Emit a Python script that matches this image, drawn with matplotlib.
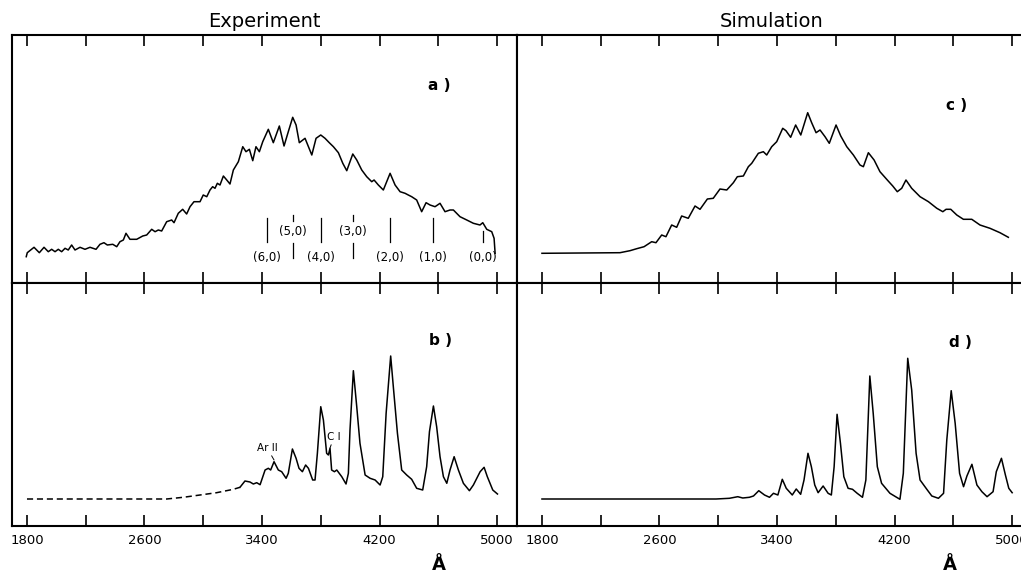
import matplotlib
matplotlib.use("Agg")
import matplotlib.pyplot as plt

plt.rcParams["font.family"] = ["DejaVu Sans"]

# wavelengths in Angstrom, intensities in arbitrary units
a_wl = [1795, 1802, 1848, 1884, 1916, 1945, 1968, 1991, 2013, 2036, 2059, 2081,
        2104, 2127, 2161, 2195, 2229, 2270, 2297, 2324, 2347, 2384, 2411, 2433,
        2456, 2474, 2501, 2547, 2588, 2615, 2649, 2672, 2694, 2717, 2751, 2785,
        2801, 2830, 2860, 2887, 2910, 2937, 2978, 3000, 3024, 3046, 3064, 3080,
        3096, 3114, 3137, 3160, 3182, 3205, 3239, 3269, 3291, 3314, 3337, 3359,
        3382, 3405, 3443, 3477, 3518, 3550, 3579, 3609, 3632, 3654, 3693, 3739,
        3768, 3800, 3829, 3858, 3886, 3920, 3950, 3977, 4018, 4045, 4079, 4113,
        4147, 4163, 4192, 4226, 4272, 4306, 4340, 4374, 4396, 4419, 4453, 4487,
        4517, 4544, 4578, 4612, 4646, 4680, 4703, 4748, 4794, 4839, 4884, 4903,
        4930, 4964, 4980, 4987]
a_int = [26.3, 30.3, 35.7, 30.3, 35.7, 31.3, 33.7, 31.3, 33.7, 31.3, 34.7, 33,
         38, 33, 35.7, 33.7, 35.7, 33.7, 38.7, 40.3, 38, 38.7, 36.3, 41.3, 43,
         49.7, 43.7, 43.7, 47, 48, 53.7, 51.3, 53, 52, 61.3, 63, 60.3, 69.7, 73.7,
         69, 76.3, 81.3, 81.3, 88, 86.3, 93, 96.3, 94.7, 99.7, 98, 107, 103, 99,
         113, 121.3, 136.3, 131.3, 133.7, 122.3, 136.3, 131.3, 141.3, 153.7,
         140.3, 157, 137, 151.3, 165.7, 158, 140.3, 144.7, 128, 144.7, 148,
         144.7, 140.3, 136.3, 130.3, 119.7, 112.3, 129, 123, 113, 106.3, 101.3,
         103, 98, 93, 109.7, 98, 91.3, 89.7, 88, 86.3, 83, 71.3, 80.3, 78, 76.3,
         79.7, 71.3, 73, 73, 66.3, 63, 59.7, 58, 60.3, 53.7, 51.3, 44.7, 29.7]

b_dash_wl = [1800, 2751, 2864, 2978, 3091, 3205, 3250]
b_dash_int = [27, 27, 28.7, 31, 33.3, 36.7, 38.7]
b_wl = [3250, 3284, 3318, 3341, 3364, 3387, 3421, 3443, 3459, 3482, 3511, 3534,
        3564, 3579, 3607, 3632, 3652, 3675, 3697, 3716, 3745, 3761, 3777, 3800,
        3818, 3840, 3852, 3863, 3874, 3893, 3909, 3943, 3972, 3988, 3999, 4022,
        4045, 4067, 4102, 4136, 4170, 4204, 4222, 4245, 4276, 4294, 4322, 4351,
        4385, 4419, 4453, 4494, 4521, 4540, 4567, 4589, 4612, 4635, 4658, 4680,
        4708, 4737, 4771, 4812, 4839, 4885, 4912, 4934, 4971, 5003]
b_int = [38.7, 45, 44, 42, 43.3, 41.3, 56, 57.7, 56, 64.3, 56, 54.3, 47.7, 52.7,
         77, 67.7, 57.7, 54.3, 61, 57.7, 46, 46, 72.7, 119.3, 106, 72.7, 71, 77.7,
         56, 54.3, 56, 49.3, 42, 52.7, 96, 155.3, 119.3, 82.7, 51, 47.7, 46, 41,
         49.3, 112.7, 170, 139.3, 92.7, 56, 51, 46.7, 37.7, 36, 59.3, 94.3, 120,
         99.3, 69.3, 49.3, 42.7, 56, 69.3, 56, 42.7, 35.3, 41, 54.3, 58.7, 49.3,
         36, 32]

c_wl = [1800, 2331, 2399, 2445, 2495, 2547, 2576, 2615, 2644, 2683, 2717, 2751,
        2796, 2842, 2876, 2926, 2966, 3012, 3058, 3103, 3130, 3171, 3205, 3228,
        3273, 3307, 3330, 3364, 3398, 3439, 3461, 3493, 3527, 3562, 3609, 3636,
        3666, 3693, 3727, 3756, 3802, 3834, 3875, 3920, 3965, 3988, 4022, 4061,
        4101, 4151, 4188, 4219, 4249, 4278, 4317, 4374, 4431, 4488, 4529, 4551,
        4583, 4624, 4669, 4726, 4782, 4850, 4918, 4975]
c_int = [29.7, 30.3, 32.3, 34.3, 36.3, 41.3, 40.3, 48, 46.3, 58, 55.7, 67, 64.7,
         77, 73.7, 84, 84.7, 94, 93, 100.3, 106.3, 107, 116.3, 119.7, 129.7,
         131.3, 128, 136.3, 141.3, 154.7, 152.3, 145.7, 158, 148, 170.3, 160.3,
         150.3, 153, 146.3, 139.7, 158, 147, 136.3, 128, 118, 116.3, 130.3, 123,
         111.3, 103, 97, 91.3, 94.7, 103, 94.7, 86.3, 81.3, 74.7, 71.3, 73.7,
         73.7, 68, 63.7, 63.7, 58, 54.7, 50.3, 45.7]

d_wl = [1800, 2985, 3076, 3133, 3167, 3212, 3240, 3276, 3315, 3349, 3376, 3406,
        3436, 3463, 3504, 3531, 3561, 3584, 3611, 3634, 3657, 3680, 3714, 3748,
        3770, 3789, 3809, 3832, 3855, 3884, 3914, 3946, 3982, 4005, 4032, 4055,
        4083, 4112, 4169, 4237, 4260, 4290, 4317, 4347, 4374, 4420, 4454, 4499,
        4534, 4556, 4586, 4613, 4643, 4670, 4693, 4727, 4761, 4795, 4830, 4871,
        4893, 4928, 4955, 4978, 5001]
d_int = [27, 27, 27.7, 29.3, 28, 28.7, 30, 35.3, 31, 28.7, 32.7, 31, 46.7, 37.7,
         31, 37, 31.7, 46, 72.7, 59.3, 41, 33.3, 40, 32.7, 31, 59.3, 111.7, 82.7,
         49.3, 37.7, 36.7, 32.7, 28.7, 46, 150, 112.7, 59.3, 42.7, 32.7, 26.7,
         52.7, 167.7, 136, 72.7, 46, 36.7, 30, 27.7, 32.7, 86, 135.3, 102.7, 52.7,
         39.3, 50, 61.7, 41, 34.3, 29.3, 34.3, 54.3, 67.7, 51, 37.7, 33.3]

# (v',v'') band heads marked in panel a
band_labels = ["(6,0)", "(5,0)", "(4,0)", "(3,0)", "(2,0)", "(1,0)", "(0,0)"]
band_wl = [3432, 3609, 3802, 4022, 4272, 4567, 4907]
band_upper = [False, True, False, True, False, False, False]

tick_major = [1800, 2600, 3400, 4200, 5000]
tick_minor = [2200, 3000, 3800, 4600]

W, H = 1021, 575
fig = plt.figure(figsize=(W / 100, H / 100), dpi=100)

def px(x0, y0, x1, y1):
    return [x0 / W, 1 - y1 / H, (x1 - x0) / W, (y1 - y0) / H]

ax_a = fig.add_axes(px(12, 35, 517, 283))
ax_b = fig.add_axes(px(12, 283, 517, 526))
ax_c = fig.add_axes(px(517, 35, 1027, 283))
ax_d = fig.add_axes(px(517, 283, 1027, 526))

lw = 1.1
for ax in (ax_a, ax_b, ax_c, ax_d):
    for s in ax.spines.values():
        s.set_linewidth(1.5)
    ax.set_xticks(tick_major)
    ax.set_xticks(tick_minor, minor=True)
    ax.set_yticks([])
    ax.tick_params(axis="x", which="both", direction="in", top=True, bottom=True,
                   length=8, width=1.2, labelsize=9.5, pad=6)

for ax in (ax_a, ax_b):
    ax.set_xlim(1698, 5136)
for ax in (ax_c, ax_d):
    ax.set_xlim(1630, 5102)
ax_a.set_ylim(0, 248)
ax_c.set_ylim(0, 248)
ax_b.set_ylim(0, 243)
ax_d.set_ylim(0, 243)

for ax in (ax_a, ax_c):
    ax.tick_params(axis="x", which="both", labelbottom=False)

ax_a.plot(a_wl, a_int, color="black", lw=lw)
ax_b.plot(b_dash_wl, b_dash_int, color="black", lw=lw, ls=(0, (4, 2.5)))
ax_b.plot(b_wl, b_int, color="black", lw=lw)
ax_c.plot(c_wl, c_int, color="black", lw=lw)
ax_d.plot(d_wl, d_int, color="black", lw=lw)

# band head markers
for lab, wl, up in zip(band_labels, band_wl, band_upper):
    if up:
        ax_a.plot([wl, wl], [62, 68], color="black", lw=0.9)
        ax_a.plot([wl, wl], [25, 40], color="black", lw=0.9)
        ax_a.text(wl, 52, lab, ha="center", va="center", fontsize=8.5)
    else:
        top = 52 if lab == "(0,0)" else 65
        ax_a.plot([wl, wl], [41, top], color="black", lw=0.9)
        ax_a.text(wl, 26, lab, ha="center", va="center", fontsize=8.5)

# line identifications
ax_b.annotate("Ar II", xy=(3482, 66), xytext=(3435, 73), fontsize=7.5,
              ha="center", va="bottom",
              arrowprops=dict(arrowstyle="-", lw=0.7, color="black",
                              shrinkA=0, shrinkB=0))
ax_b.annotate("C I", xy=(3863, 78), xytext=(3890, 84), fontsize=7.5,
              ha="center", va="bottom",
              arrowprops=dict(arrowstyle="-", lw=0.7, color="black",
                              shrinkA=0, shrinkB=0))

ax_a.text(4610, 198, "a )", fontsize=11, fontweight="bold", ha="center", va="center")
ax_b.text(4615, 186, "b )", fontsize=11, fontweight="bold", ha="center", va="center")
ax_c.text(4625, 178, "c )", fontsize=11, fontweight="bold", ha="center", va="center")
ax_d.text(4650, 184, "d )", fontsize=11, fontweight="bold", ha="center", va="center")

ax_a.set_title("Experiment", fontsize=14, pad=6)
ax_c.set_title("Simulation", fontsize=14, pad=6)

for ax, wl in ((ax_b, 4605), (ax_d, 4578)):
    ax.annotate("Å", xy=(wl, -0.16), xycoords=("data", "axes fraction"),
                ha="center", va="center", fontsize=13, fontweight="bold",
                annotation_clip=False)

fig.savefig("out.png", dpi=100)
